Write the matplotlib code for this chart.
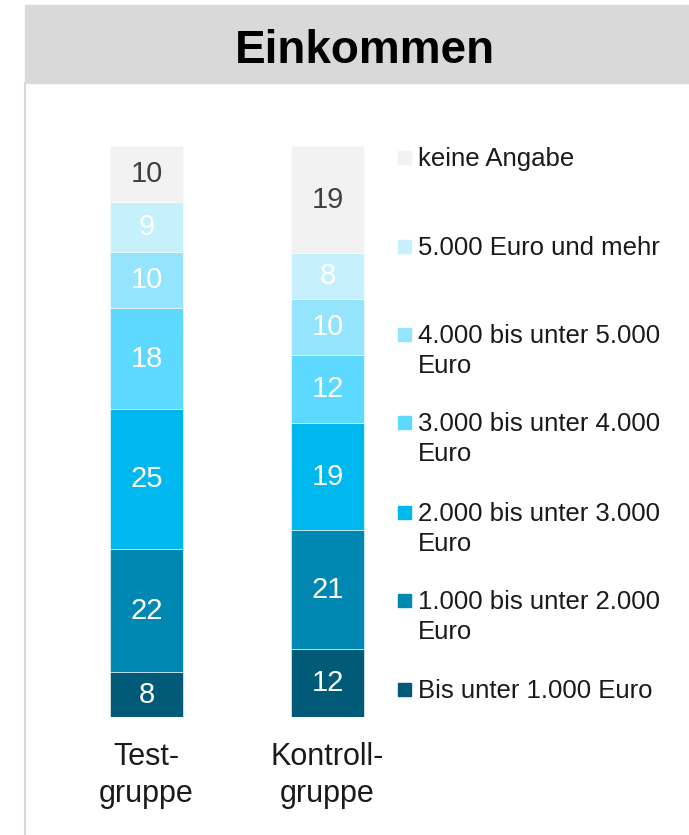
import numpy as np
import matplotlib.pyplot as plt
from matplotlib.patches import Rectangle
from matplotlib.lines import Line2D

plt.rcParams['font.family'] = ['Liberation Sans', 'DejaVu Sans']

#---------/Data/------------------------------#
groups = ["Test-\ngruppe", "Kontroll-\ngruppe"]
# bottom to top
categories = ["Bis unter 1.000 Euro",
              "1.000 bis unter 2.000\nEuro",
              "2.000 bis unter 3.000\nEuro",
              "3.000 bis unter 4.000\nEuro",
              "4.000 bis unter 5.000\nEuro",
              "5.000 Euro und mehr",
              "keine Angabe"]
test_vals = [8, 22, 25, 18, 10, 9, 10]
kontroll_vals = [12, 21, 19, 12, 10, 8, 19]
colors = ["#005A78", "#0088B3", "#00B7EE", "#5DD9FF", "#93E4FC", "#C6F0FC", "#F2F2F2"]
label_colors = ["white"] * 6 + ["#404040"]

#---------/Figure/------------------------------#
W, H = 689, 835
fig = plt.figure(figsize=(W / 100, H / 100), dpi=100)

#Title band and left border
fig.patches.append(Rectangle((25 / W, 1 - 83 / H), 1 - 25 / W, 78 / H,
                             transform=fig.transFigure, color="#D9D9D9", zorder=0))
fig.lines.append(Line2D([25 / W, 25 / W], [0, 1 - 83 / H], transform=fig.transFigure,
                        color="#D9D9D9", lw=1.5))
fig.text(365 / W, 1 - 63 / H, "Einkommen", ha="center", va="baseline",
         fontsize=33, fontweight="bold", color="black")

#Bars
ax = fig.add_axes([56 / W, 1 - 717 / H, 362 / W, 571 / H])
data = np.array([test_vals, kontroll_vals], dtype=float)
shares = data / data.sum(axis=1, keepdims=True) * 100
x = np.arange(len(groups))
bottom = np.zeros(len(groups))
for i in range(len(categories)):
    ax.bar(x, shares[:, i], 0.403, bottom=bottom, color=colors[i],
           edgecolor="white", linewidth=0.4)
    for j in range(len(groups)):
        ax.text(x[j], bottom[j] + shares[j, i] / 2, str(int(data[j, i])),
                ha="center", va="center", fontsize=21, color=label_colors[i])
    bottom += shares[:, i]

ax.set_xlim(-0.5, 1.5)
ax.set_ylim(0, 100)
ax.axis("off")

#Group labels, one line at a time
for j in range(len(groups)):
    for n, line in enumerate(groups[j].split("\n")):
        fig.text((56 + 181 * (x[j] + 0.5)) / W, 1 - (765 + 37 * n) / H, line,
                 ha="center", va="baseline", fontsize=22, color="#1a1a1a")

#Legend drawn by hand (top entry first)
legend_base = [166, 255, 343, 431, 521, 609, 698]
for k, i in enumerate(range(len(categories) - 1, -1, -1)):
    yb = legend_base[k]
    fig.patches.append(Rectangle((398 / W, 1 - (yb - 2) / H), 13 / W, 13 / H,
                                 transform=fig.transFigure, color=colors[i]))
    for n, line in enumerate(categories[i].split("\n")):
        fig.text(418 / W, 1 - (yb + 30 * n) / H, line, ha="left", va="baseline",
                 fontsize=18.5, color="#1a1a1a")

fig.savefig("out.png", dpi=100)
